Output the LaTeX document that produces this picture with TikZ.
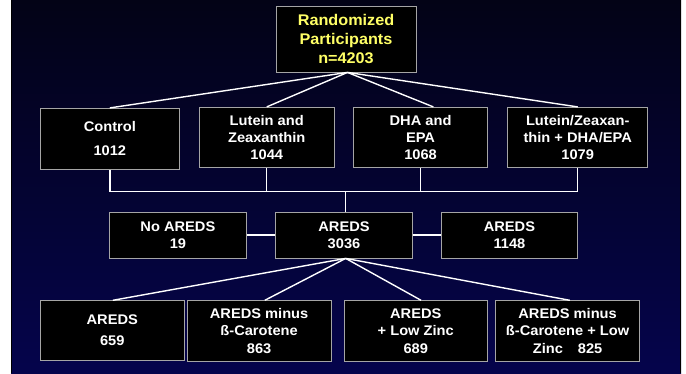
\documentclass[tikz,border=0pt]{standalone}
\usepackage{fontspec}
\setmainfont{Liberation Sans}[FakeStretch=1.05]
\usetikzlibrary{calc}
\definecolor{bgtop}{RGB}{3,3,22}
\definecolor{bgbot}{RGB}{5,4,76}
\definecolor{boxline}{RGB}{165,165,165}
\definecolor{ytext}{RGB}{255,255,102}
\begin{document}
\begin{tikzpicture}[x=1bp,y=-1bp,
  box/.style={draw=boxline, line width=0.8bp, fill=black, inner sep=0pt, text=white,
    align=center, font=\fontsize{14}{17.5}\selectfont\bfseries},
  conn/.style={white, line width=1.4bp}]
\useasboundingbox (0,0) rectangle (686,373);
\fill[white] (0,0) rectangle (686,373);
\shade[top color=bgtop, bottom color=bgbot] (11,0) rectangle (681,373);
\draw[black, line width=1bp] (11.5,0) -- (11.5,373);
\draw[black, line width=1bp] (680.5,0) -- (680.5,373);

% top
\node[box, minimum width=140bp, minimum height=66bp, text=ytext,
  font=\fontsize{15.5}{19.3}\selectfont\bfseries] (top) at (346,39) {Randomized\\Participants\\n=4203};

% row 1
\node[box, minimum width=139bp, minimum height=61bp] (control) at (109.85,138.8) {Control\\[6.5bp]1012};
\node[box, minimum width=134.3bp, minimum height=60.4bp] (lutein) at (266.75,137.5) {Lutein and\\Zeaxanthin\\1044};
\node[box, minimum width=133.9bp, minimum height=60.4bp] (dha) at (420.55,137.5) {DHA and\\EPA\\1068};
\node[box, minimum width=140bp, minimum height=60.4bp] (lz) at (577.7,137.5) {Lutein/Zeaxan-\\thin + DHA/EPA\\1079};

% row 2
\node[box, minimum width=137bp, minimum height=45.7bp] (noareds) at (177.9,235.15) {No AREDS\\19};
\node[box, minimum width=136.6bp, minimum height=45.7bp] (areds) at (344,235.15) {AREDS\\3036};
\node[box, minimum width=136.6bp, minimum height=45.7bp] (aredsb) at (509.4,235.15) {AREDS\\1148};

% row 3
\node[box, minimum width=143.9bp, minimum height=59.6bp] (ra) at (112.25,330.5) {AREDS\\[3.5bp]659};
\node[box, minimum width=144.4bp, minimum height=60.6bp] (rb) at (259.1,331) {AREDS minus\\ß-Carotene\\863};
\node[box, minimum width=143.5bp, minimum height=60.6bp] (rc) at (415.75,331) {AREDS\\+ Low Zinc\\689};
\node[box, minimum width=144.4bp, minimum height=60.6bp] (rd) at (567.6,331) {AREDS minus\\ß-Carotene + Low\\Zinc\hspace{15bp}825};

% connectors top -> row 1
\draw[conn] ($(top.south)+(1.5,0)$) -- (control.north);
\draw[conn] ($(top.south)+(1.5,0)$) -- (lutein.north);
\draw[conn] ($(top.south)+(1.5,0)$) -- ($(dha.north)+(12.8,0)$);
\draw[conn] ($(top.south)+(1.5,0)$) -- (lz.north);

% bus
\coordinate (busy) at (0,191.7);
\draw[conn] (control.south) -- (control.south |- busy) -- (lz.south |- busy) -- (lz.south);
\draw[conn] (lutein.south) -- (lutein.south |- busy);
\draw[conn] (dha.south) -- (dha.south |- busy);
\draw[conn] ($(areds.north)+(1.7,0)$) -- ($(areds.north |- busy)+(1.7,0)$);

% row 2 links
\draw[conn] (noareds.east) -- (areds.west);
\draw[conn] (areds.east) -- (aredsb.west);

% areds -> row 3
\draw[conn] ($(areds.south)+(1.7,0)$) -- ($(ra.north)+(0.6,0)$);
\draw[conn] ($(areds.south)+(1.7,0)$) -- ($(rb.north)+(5.7,0)$);
\draw[conn] ($(areds.south)+(1.7,0)$) -- ($(rc.north)+(5.3,0)$);
\draw[conn] ($(areds.south)+(1.7,0)$) -- ($(rd.north)+(2.2,0)$);
\end{tikzpicture}
\end{document}
